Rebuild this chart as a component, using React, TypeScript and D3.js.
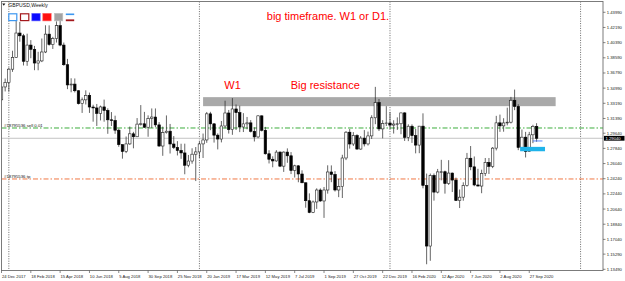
import React from "react";
import * as d3 from "d3";

const W = 625;
const H = 281;

// Weekly GBPUSD candles, week 0 = 24 Dec 2017
const opens = [
  1.3360, 1.3513, 1.3567, 1.3724, 1.3864, 1.4153, 1.4120, 1.3818, 1.4010, 1.3960,
  1.3797, 1.3822, 1.3928, 1.4140, 1.4017, 1.4087, 1.4240, 1.4010, 1.3777, 1.3537,
  1.3547, 1.3468, 1.3315, 1.3360, 1.3413, 1.3275, 1.3264, 1.3199, 1.3276, 1.3235,
  1.3123, 1.3115, 1.3000, 1.2828, 1.2747, 1.2837, 1.2957, 1.2922, 1.3072, 1.3076,
  1.3035, 1.3138, 1.3156, 1.3063, 1.2812, 1.2971, 1.2988, 1.2836, 1.2796, 1.2759,
  1.2730, 1.2584, 1.2634, 1.2715, 1.2742, 1.2837, 1.2884, 1.3194, 1.3075, 1.2941,
  1.2895, 1.3050, 1.3204, 1.3006, 1.3252, 1.3208, 1.3038, 1.3075, 1.3087, 1.2987,
  1.2920, 1.3170, 1.2999, 1.2720, 1.2655, 1.2635, 1.2740, 1.2573, 1.2740, 1.2696,
  1.2522, 1.2577, 1.2480, 1.2376, 1.2163, 1.2024, 1.2148, 1.2290, 1.2160, 1.2290,
  1.2504, 1.2475, 1.2290, 1.2330, 1.2670, 1.2976, 1.2836, 1.2937, 1.2776, 1.2906,
  1.2837, 1.2932, 1.3147, 1.3327, 1.3015, 1.3079, 1.3085, 1.3060, 1.3073, 1.3076,
  1.3205, 1.2915, 1.3047, 1.2935, 1.2823, 1.3048, 1.2345, 1.1625, 1.2463, 1.2265,
  1.2505, 1.2507, 1.2367, 1.2491, 1.2408, 1.2165, 1.2205, 1.2343, 1.2667, 1.2565,
  1.2350, 1.2337, 1.2485, 1.2618, 1.2570, 1.2787, 1.3087, 1.3051, 1.3086, 1.3095,
  1.3355, 1.3282, 1.2795, 1.2917, 1.2747, 1.2945, 1.3046,
];
const highs = [
  1.3528, 1.3613, 1.3743, 1.3943, 1.4345, 1.4285, 1.4143, 1.4145, 1.4069, 1.4000,
  1.3930, 1.4088, 1.4245, 1.4244, 1.4108, 1.4292, 1.4377, 1.4040, 1.3846, 1.3616,
  1.3614, 1.3475, 1.3388, 1.3473, 1.3446, 1.3302, 1.3311, 1.3292, 1.3363, 1.3259,
  1.3215, 1.3172, 1.3018, 1.2831, 1.2925, 1.3043, 1.2980, 1.3144, 1.3298, 1.3217,
  1.3176, 1.3258, 1.3258, 1.3096, 1.3042, 1.3175, 1.3074, 1.2930, 1.2870, 1.2839,
  1.2840, 1.2706, 1.2785, 1.2800, 1.2866, 1.2960, 1.3216, 1.3218, 1.3085, 1.2962,
  1.3109, 1.3350, 1.3240, 1.3381, 1.3305, 1.3290, 1.3202, 1.3157, 1.3120, 1.3033,
  1.3176, 1.3176, 1.3039, 1.2762, 1.2690, 1.2763, 1.2748, 1.2749, 1.2784, 1.2740,
  1.2590, 1.2584, 1.2524, 1.2378, 1.2250, 1.2165, 1.2310, 1.2309, 1.2326, 1.2583,
  1.2582, 1.2514, 1.2422, 1.2708, 1.2989, 1.3013, 1.2977, 1.2952, 1.2930, 1.3001,
  1.2983, 1.3177, 1.3514, 1.3370, 1.3119, 1.3285, 1.3214, 1.3118, 1.3152, 1.3207,
  1.3213, 1.3070, 1.3069, 1.3014, 1.3050, 1.3200, 1.2485, 1.2485, 1.2486, 1.2540,
  1.2648, 1.2520, 1.2644, 1.2497, 1.2437, 1.2296, 1.2381, 1.2730, 1.2812, 1.2688,
  1.2542, 1.2531, 1.2670, 1.2670, 1.2800, 1.3170, 1.3185, 1.3142, 1.3267, 1.3395,
  1.3482, 1.3308, 1.3008, 1.2980, 1.2980, 1.3064, 1.3083,
];
const lows = [
  1.3350, 1.3460, 1.3457, 1.3692, 1.3859, 1.4050, 1.3768, 1.3764, 1.3854, 1.3712,
  1.3711, 1.3808, 1.3915, 1.4003, 1.3964, 1.4040, 1.3996, 1.3764, 1.3487, 1.3450,
  1.3448, 1.3305, 1.3205, 1.3305, 1.3205, 1.3101, 1.3050, 1.3116, 1.3101, 1.2957,
  1.3050, 1.2957, 1.2803, 1.2662, 1.2728, 1.2826, 1.2785, 1.2920, 1.3055, 1.3027,
  1.2922, 1.3027, 1.3036, 1.2803, 1.2696, 1.2960, 1.2723, 1.2776, 1.2700, 1.2660,
  1.2477, 1.2560, 1.2602, 1.2396, 1.2670, 1.2670, 1.2850, 1.3000, 1.2853, 1.2772,
  1.2855, 1.3022, 1.2960, 1.2945, 1.3002, 1.2977, 1.2978, 1.3010, 1.2973, 1.2866,
  1.2905, 1.2985, 1.2710, 1.2605, 1.2560, 1.2626, 1.2562, 1.2505, 1.2613, 1.2479,
  1.2438, 1.2382, 1.2371, 1.2080, 1.2015, 1.2016, 1.2066, 1.2150, 1.1959, 1.2247,
  1.2383, 1.2272, 1.2205, 1.2195, 1.2645, 1.2781, 1.2812, 1.2768, 1.2768, 1.2807,
  1.2818, 1.2896, 1.3071, 1.2990, 1.2903, 1.3050, 1.3012, 1.2960, 1.3003, 1.2952,
  1.2872, 1.2870, 1.2849, 1.2725, 1.2727, 1.2310, 1.1409, 1.1450, 1.2164, 1.2250,
  1.2405, 1.2247, 1.2350, 1.2266, 1.2163, 1.2076, 1.2163, 1.2330, 1.2525, 1.2335,
  1.2335, 1.2252, 1.2455, 1.2480, 1.2550, 1.2760, 1.2980, 1.2982, 1.3057, 1.3080,
  1.3238, 1.2763, 1.2763, 1.2676, 1.2745, 1.2846, 1.2863,
];
const closes = [
  1.3513, 1.3567, 1.3724, 1.3864, 1.4153, 1.4120, 1.3818, 1.4010, 1.3960, 1.3797,
  1.3822, 1.3928, 1.4140, 1.4017, 1.4087, 1.4240, 1.4010, 1.3777, 1.3537, 1.3547,
  1.3468, 1.3315, 1.3360, 1.3413, 1.3275, 1.3264, 1.3199, 1.3276, 1.3235, 1.3123,
  1.3115, 1.3000, 1.2828, 1.2747, 1.2837, 1.2957, 1.2922, 1.3072, 1.3076, 1.3035,
  1.3138, 1.3156, 1.3063, 1.2812, 1.2971, 1.2988, 1.2836, 1.2796, 1.2759, 1.2730,
  1.2584, 1.2634, 1.2715, 1.2742, 1.2837, 1.2884, 1.3194, 1.3075, 1.2941, 1.2895,
  1.3050, 1.3204, 1.3006, 1.3252, 1.3208, 1.3038, 1.3075, 1.3087, 1.2987, 1.2920,
  1.3170, 1.2999, 1.2720, 1.2655, 1.2635, 1.2740, 1.2573, 1.2740, 1.2696, 1.2522,
  1.2577, 1.2480, 1.2376, 1.2163, 1.2024, 1.2148, 1.2290, 1.2160, 1.2290, 1.2504,
  1.2475, 1.2290, 1.2330, 1.2670, 1.2976, 1.2836, 1.2937, 1.2776, 1.2906, 1.2837,
  1.2932, 1.3147, 1.3327, 1.3015, 1.3079, 1.3085, 1.3060, 1.3073, 1.3076, 1.3205,
  1.2915, 1.3047, 1.2935, 1.2823, 1.3048, 1.2345, 1.1625, 1.2463, 1.2265, 1.2505,
  1.2507, 1.2367, 1.2491, 1.2408, 1.2165, 1.2205, 1.2343, 1.2667, 1.2565, 1.2350,
  1.2337, 1.2485, 1.2618, 1.2570, 1.2787, 1.3087, 1.3051, 1.3086, 1.3095, 1.3355,
  1.3282, 1.2795, 1.2917, 1.2747, 1.2945, 1.3046, 1.2904,
];

const priceLabels = [
  "1.43990", "1.42190", "1.40390", "1.38590", "1.36790", "1.34990", "1.33190",
  "1.31390", "1.29640", "1.27840", "1.26040", "1.24240", "1.22440", "1.20640",
  "1.18840", "1.17040", "1.15290", "1.13490",
];
const dateLabels = [
  "24 Dec 2017", "18 Feb 2018", "15 Apr 2018", "10 Jun 2018", "5 Aug 2018",
  "30 Sep 2018", "25 Nov 2018", "20 Jan 2019", "17 Mar 2019", "12 May 2019",
  "7 Jul 2019", "1 Sep 2019", "27 Oct 2019", "22 Dec 2019", "16 Feb 2020",
  "12 Apr 2020", "7 Jun 2020", "2 Aug 2020", "27 Sep 2020",
];
const dateLabelEvery = 8;
const yearStartWeeks = [2, 54, 106, 158];

const currentPrice = 1.2904;
const currentPriceLabel = "1.29040";
const sellLevel = 1.3026;
const tpLevel = 1.2421;
const resistance = { fromWeek: 55, toWeek: 151.2, top: 1.3392, bottom: 1.3285 };
const supportBox = { fromWeek: 141.5, toWeek: 148.3, top: 1.2802, bottom: 1.2750 };
const blueMarker = { fromWeek: 145, toWeek: 147.6, level: 1.2872 };

const L = 1.5, R = 603, T = 1.5, B = 270.5;

export default function App() {
  const x = d3.scaleLinear().domain([0, 158]).range([1.5, 1.5 + 3.665 * 158]);
  const y = d3.scaleLinear().domain([1.1349, 1.4399]).range([269.3, 12.3]);
  const bw = 2.5;
  const font = "'Liberation Sans', Arial, sans-serif";

  const candles = opens.map((o, i) => ({ i, o, h: highs[i], l: lows[i], c: closes[i] }));

  return (
    <svg
      width={W}
      height={H}
      viewBox={`0 0 ${W} ${H}`}
      style={{ position: "absolute", left: 0, top: 0, background: "#fff" }}
    >
      <defs>
        <clipPath id="plot">
          <rect x={L} y={T} width={R - L} height={B - T} />
        </clipPath>
      </defs>
      <rect x={0} y={0} width={W} height={H} fill="#fff" />

      <g clipPath="url(#plot)">
        {yearStartWeeks.map((w) => (
          <line key={w} x1={x(w)} x2={x(w)} y1={T} y2={B} stroke="#444" strokeWidth={0.8} strokeDasharray="1,1.4" />
        ))}

        <rect
          x={x(resistance.fromWeek)}
          y={y(resistance.top)}
          width={x(resistance.toWeek) - x(resistance.fromWeek)}
          height={y(resistance.bottom) - y(resistance.top)}
          fill="#a9a9a9"
        />

        <line x1={L} x2={R} y1={y(currentPrice)} y2={y(currentPrice)} stroke="#c4c4c4" strokeWidth={1} />

        <line x1={L} x2={R} y1={y(sellLevel)} y2={y(sellLevel)} stroke="#3dae3d" strokeWidth={1} strokeDasharray="5,2,1.5,2" />
        <line x1={L} x2={R} y1={y(tpLevel)} y2={y(tpLevel)} stroke="#f07845" strokeWidth={1} strokeDasharray="5,2,1.5,2" />

        {candles.map((d) => {
          const cx = x(d.i);
          const bull = d.c >= d.o;
          const top = y(Math.max(d.o, d.c));
          const bot = y(Math.min(d.o, d.c));
          return (
            <g key={d.i}>
              <line x1={cx} x2={cx} y1={y(d.h)} y2={y(d.l)} stroke="#222" strokeWidth={0.7} />
              <rect
                x={cx - bw / 2}
                y={top}
                width={bw}
                height={Math.max(bot - top, 0.6)}
                fill={bull ? "#fff" : "#000"}
                stroke={bull ? "#222" : "#000"}
                strokeWidth={0.6}
              />
            </g>
          );
        })}

        <rect
          x={x(supportBox.fromWeek)}
          y={y(supportBox.top)}
          width={x(supportBox.toWeek) - x(supportBox.fromWeek)}
          height={y(supportBox.bottom) - y(supportBox.top)}
          fill="#1fb3ea"
        />
        <line
          x1={x(blueMarker.fromWeek)}
          x2={x(blueMarker.toWeek)}
          y1={y(blueMarker.level)}
          y2={y(blueMarker.level)}
          stroke="#2f6bff"
          strokeWidth={0.8}
        />

        <text x={4} y={y(sellLevel) - 1.3} fontSize={4.3} fontFamily={font} fill="#111">#18795536 sell 0.01</text>
        <text x={4} y={y(tpLevel) - 1.3} fontSize={4.3} fontFamily={font} fill="#111">#18795536 tp</text>
      </g>

      <rect x={L} y={T} width={R - L} height={B - T} fill="none" stroke="#6e6e6e" strokeWidth={0.9} />

      {priceLabels.map((p) => {
        const py = y(parseFloat(p));
        return (
          <g key={p}>
            <line x1={R} x2={R + 2.5} y1={py} y2={py} stroke="#555" strokeWidth={0.7} />
            <text x={606.8} y={py + 1.5} fontSize={4.2} fontFamily={font} fill="#222">{p}</text>
          </g>
        );
      })}
      <rect x={604} y={y(currentPrice) - 2.4} width={20.5} height={4.8} fill="#000" />
      <text x={605.5} y={y(currentPrice) + 1.5} fontSize={4.2} fontFamily={font} fill="#fff">{currentPriceLabel}</text>

      {dateLabels.map((t, k) => {
        const tx = x(k * dateLabelEvery);
        return (
          <g key={t}>
            <line x1={tx} x2={tx} y1={B} y2={B + 2.5} stroke="#555" strokeWidth={0.7} />
            <text x={tx + 0.4} y={278.3} fontSize={4.2} fontFamily={font} fill="#222">{t}</text>
          </g>
        );
      })}

      <path d="M2.2,3.6 L5.4,3.6 L3.8,5.8 Z" fill="#111" />
      <text x={8.3} y={6.9} fontSize={5.1} fontFamily={font} fill="#111">GBPUSD,Weekly</text>

      <rect x={8.8} y={13.8} width={8} height={6.8} fill="#fff" stroke="#3d97f0" strokeWidth={1.2} />
      <rect x={20.5} y={13.8} width={8.3} height={6.8} fill="#fff" stroke="#a3181c" strokeWidth={1.2} />
      <rect x={31.8} y={13.3} width={8.4} height={7.6} fill="#0a0aff" stroke="#6c6cff" strokeWidth={0.6} />
      <rect x={42.8} y={13.3} width={8.4} height={7.6} fill="#ff1010" stroke="#ff6a6a" strokeWidth={0.6} />
      <rect x={54.4} y={13.3} width={8.4} height={7.6} fill="#a3a3a3" stroke="#c0c0c0" strokeWidth={0.6} />
      <rect x={65.8} y={13.5} width={8.4} height={1.6} fill="#3d97f0" />
      <rect x={65.8} y={19.4} width={8.4} height={1.8} fill="#a3181c" />

      <text x={266.8} y={20.3} fontSize={11} fontFamily={font} fill="#ff0000">big timeframe. W1 or D1.</text>
      <text x={224.3} y={89.2} fontSize={11} fontFamily={font} fill="#ff0000">W1</text>
      <text x={290.7} y={89.2} fontSize={11} fontFamily={font} fill="#ff0000">Big resistance</text>
    </svg>
  );
}
